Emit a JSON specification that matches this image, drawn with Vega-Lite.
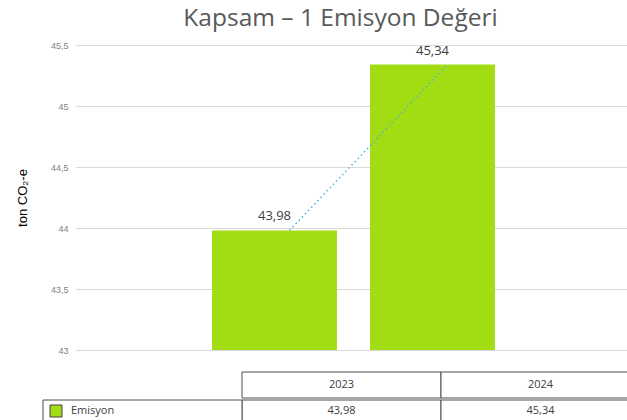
{
  "$schema": "https://vega.github.io/schema/vega-lite/v6.json",
  "padding": {"left": 16, "top": 5, "right": 0, "bottom": 0},
  "background": "white",
  "datasets": {
    "emisyon": [
      {"yil": "2023", "deger": 43.98},
      {"yil": "2024", "deger": 45.34}
    ],
    "seri": [{"seri": "Emisyon"}]
  },
  "config": {
    "view": {"stroke": null},
    "locale": {"number": {"decimal": ",", "thousands": ".", "grouping": [3], "currency": ["", " TL"]}}
  },
  "spacing": 16,
  "vconcat": [
    {
      "width": 555,
      "height": 305,
      "title": {"text": "Kapsam – 1 Emisyon Değeri", "font": "Open Sans", "fontSize": 24.5, "fontWeight": "normal", "color": "#595959", "offset": 10, "anchor": "middle", "dx": -13},
      "data": {"name": "emisyon"},
      "encoding": {
        "x": {"field": "yil", "type": "nominal", "scale": {"paddingInner": 0.209, "paddingOuter": 0.861}, "axis": null},
        "y": {
          "field": "deger", "type": "quantitative",
          "scale": {"domain": [43, 45.5], "zero": false, "nice": false},
          "axis": {
            "values": [43, 43.5, 44, 44.5, 45, 45.5],
            "format": ".1~f",
            "labelFont": "Liberation Sans", "labelFontSize": 9, "labelColor": "#7f7f7f", "labelPadding": 8,
            "ticks": false, "domain": false,
            "gridColor": "#d9d9d9", "gridWidth": 1,
            "title": "ton CO₂-e",
            "titleFont": "Liberation Sans", "titleFontSize": 13, "titleFontWeight": "normal", "titleColor": "#000000", "titlePadding": 21
          }
        }
      },
      "layer": [
        {"mark": {"type": "bar", "color": "#a2dd14"}, "encoding": {"y2": {"datum": 43}}},
        {"mark": {"type": "line", "color": "#4fb3d9", "strokeDash": [1.5, 3], "strokeWidth": 1.5, "xOffset": 15}, "encoding": {}},
        {"mark": {"type": "text", "baseline": "bottom", "dy": -7, "font": "Open Sans", "fontSize": 13, "color": "#404040"},
         "encoding": {"text": {"field": "deger", "type": "quantitative", "format": ".2f"}}}
      ]
    },
    {
      "spacing": 0,
      "vconcat": [
        {
          "width": 564,
          "height": 26,
          "data": {"name": "emisyon"},
          "encoding": {
            "x": {"field": "yil", "type": "nominal", "scale": {"domain": ["Emisyon", "2023", "2024"], "range": [-33, 564], "paddingInner": 0, "paddingOuter": 0}, "axis": null}
          },
          "layer": [
            {"mark": {"type": "rect", "fill": "white", "stroke": "#4d4d4d", "strokeWidth": 1}},
            {"mark": {"type": "text", "font": "Open Sans", "fontSize": 11, "color": "#404040"}, "encoding": {"text": {"field": "yil", "type": "nominal"}}}
          ]
        },
        {
          "width": 564,
          "height": 22,
          "layer": [
            {
              "data": {"name": "emisyon"},
              "mark": {"type": "rect", "fill": "white", "stroke": "#4d4d4d", "strokeWidth": 1},
              "encoding": {"x": {"field": "yil", "type": "nominal", "scale": {"domain": ["Emisyon", "2023", "2024"], "range": [-33, 564], "paddingInner": 0, "paddingOuter": 0}, "axis": null}}
            },
            {
              "data": {"name": "emisyon"},
              "mark": {"type": "text", "font": "Open Sans", "fontSize": 11, "color": "#404040"},
              "encoding": {
                "x": {"field": "yil", "type": "nominal"},
                "text": {"field": "deger", "type": "quantitative", "format": ".2f"}
              }
            },
            {
              "data": {"name": "seri"},
              "mark": {"type": "rect", "fill": "white", "stroke": "#4d4d4d", "strokeWidth": 1},
              "encoding": {"x": {"field": "seri", "type": "nominal"}}
            },
            {
              "data": {"name": "seri"},
              "mark": {"type": "point", "shape": "square", "size": 144, "filled": true, "fill": "#a2dd14", "stroke": "#404040", "strokeWidth": 1, "opacity": 1, "xOffset": 13},
              "encoding": {"x": {"field": "seri", "type": "nominal", "bandPosition": 0}}
            },
            {
              "data": {"name": "seri"},
              "mark": {"type": "text", "align": "left", "dx": 28, "font": "Open Sans", "fontSize": 11, "color": "#404040"},
              "encoding": {"x": {"field": "seri", "type": "nominal", "bandPosition": 0}, "text": {"field": "seri", "type": "nominal"}}
            }
          ]
        }
      ]
    }
  ]
}
